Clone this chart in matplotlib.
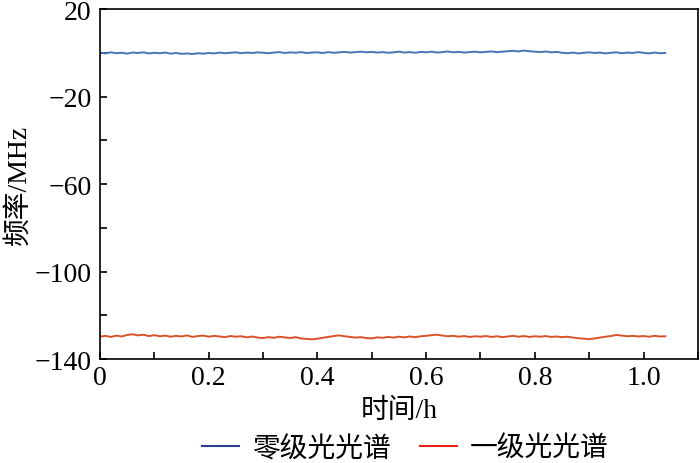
import numpy as np
import matplotlib
matplotlib.use("Agg")
import matplotlib.pyplot as plt
from matplotlib.lines import Line2D
from matplotlib.ticker import MultipleLocator

plt.rcParams['font.family'] = ['Liberation Serif', 'Noto Sans CJK SC', 'DejaVu Sans']
plt.rcParams['axes.unicode_minus'] = True

# data (frequency offset in MHz, sampled every 0.01 h from 0 to 1.04 h)
time_step = 0.01
zero_order = [
    0.1, -0.3, 0.2, -0.2, 0.0, -0.4, 0.1, -0.1, 0.2, -0.3,
    0.0, -0.2, 0.1, -0.4, -0.1, -0.5, -0.3, -0.6, -0.2, -0.4,
    -0.1, -0.3, 0.1, -0.2, 0.0, 0.2, -0.2, 0.1, -0.1, 0.2,
    0.0, -0.2, 0.1, 0.3, -0.1, 0.2, 0.0, 0.3, -0.1, 0.1,
    0.2, -0.1, 0.3, 0.0, 0.2, 0.4, 0.1, 0.3, 0.5, 0.2,
    0.4, 0.1, 0.3, 0.0, 0.2, 0.5, 0.1, 0.3, 0.0, 0.4,
    0.2, 0.5, 0.1, 0.3, 0.6, 0.2, 0.4, 0.1, 0.3, 0.5,
    0.2, 0.4, 0.6, 0.3, 0.5, 0.7, 0.9, 0.6, 1.0, 0.7,
    0.5, 0.3, 0.6, 0.2, 0.4, 0.0, -0.2, 0.1, -0.3, 0.0,
    0.2, -0.1, 0.1, -0.3, 0.0, 0.2, -0.2, 0.1, -0.1, 0.3,
    0.0, -0.3, 0.1, -0.2, -0.1,
]
first_order = [
    -129.8, -129.4, -129.9, -129.3, -129.7, -129.0, -128.7, -129.2, -128.9, -129.5,
    -129.1, -129.6, -129.3, -129.8, -129.4, -129.7, -129.2, -129.9, -129.5, -129.3,
    -129.8, -129.4, -129.7, -130.0, -129.5, -129.8, -129.6, -130.1, -129.7, -130.2,
    -130.4, -130.0, -130.3, -129.8, -130.1, -130.4, -130.0, -130.6, -130.8, -131.0,
    -130.7, -130.3, -129.9, -129.5, -129.2, -129.6, -129.9, -130.2, -130.0, -130.4,
    -130.6, -130.1, -130.3, -129.9, -130.2, -129.8, -130.1, -129.7, -130.0, -129.6,
    -129.4, -129.1, -128.9, -129.3, -129.6, -129.4, -129.8, -129.5, -129.9, -129.6,
    -129.8, -129.5, -129.9, -129.6, -130.0, -129.7, -129.4, -129.8, -129.5, -129.9,
    -129.6, -129.8, -129.5, -129.9, -129.7, -130.0, -129.8, -130.2, -130.5, -130.7,
    -130.9, -130.6, -130.2, -129.8, -129.5, -129.0, -129.3, -129.6, -129.4, -129.7,
    -129.5, -129.8, -129.4, -129.7, -129.6,
]
series_labels = ['零级光光谱', '一级光光谱']
x_ticks = [0, 0.2, 0.4, 0.6, 0.8, 1.0]
x_tick_labels = ['0', '0.2', '0.4', '0.6', '0.8', '1.0']
y_ticks = [20, -20, -60, -100, -140]

t = np.arange(len(zero_order)) * time_step

fig = plt.figure(figsize=(7.0, 4.64), dpi=100)
ax = fig.add_axes([0.1429, 0.2241, 0.997 - 0.1429, 0.9784 - 0.2241])

line_blue = '#4575b4'
line_red = '#d9532a'
ax.plot(t, zero_order, color=line_blue, lw=1.4)
ax.plot(t, first_order, color=line_red, lw=1.4)

ax.set_xlim(0, 1.1)
ax.set_ylim(-140, 20)
ax.set_xticks(x_ticks)
ax.set_xticklabels(x_tick_labels)
ax.set_yticks(y_ticks)
ax.xaxis.set_minor_locator(MultipleLocator(0.1))
ax.yaxis.set_minor_locator(MultipleLocator(20))
ax.tick_params(which='both', direction='in', length=5, width=1.2,
               labelsize=20, top=False, right=False)
ax.tick_params(axis='x', pad=4)
ax.tick_params(axis='y', pad=6)
for s in ax.spines.values():
    s.set_linewidth(1.2)

ax.set_xlabel('时间/h', fontsize=20, labelpad=6)
ax.set_ylabel('频率/MHz', fontsize=20, labelpad=2)

handles = [Line2D([], [], color='#2b3f8f', lw=1.5),
           Line2D([], [], color='#e8231a', lw=1.5)]
fig.legend(handles, series_labels, loc='center', bbox_to_anchor=(0.579, 0.03),
           ncol=2, frameon=False, fontsize=20, handlelength=1.35,
           handletextpad=0.45, columnspacing=1.05, borderpad=0)

fig.savefig('out.png', dpi=100)
